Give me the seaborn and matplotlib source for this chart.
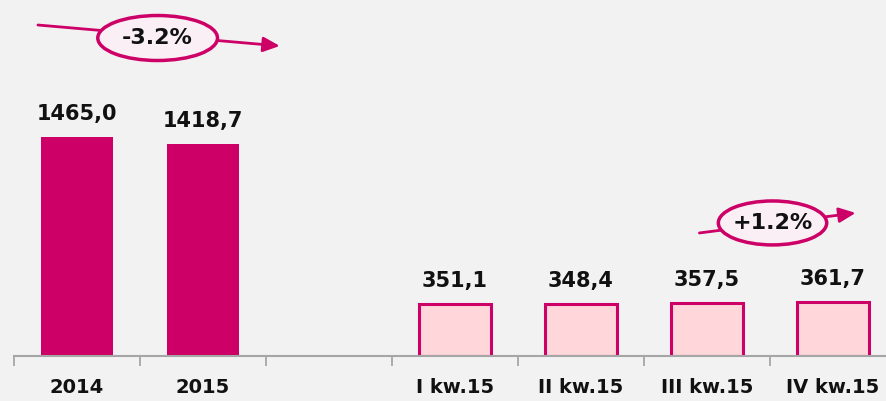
import matplotlib
matplotlib.use("Agg")
import matplotlib.pyplot as plt
from matplotlib.patches import Ellipse
import seaborn as sns
import pandas as pd

# Data
categories = ["2014", "2015", "I kw.15", "II kw.15", "III kw.15", "IV kw.15"]
order = ["2014", "2015", "", "I kw.15", "II kw.15", "III kw.15", "IV kw.15"]
values = [1465.0, 1418.7, 351.1, 348.4, 357.5, 361.7]
labels = ["1465,0", "1418,7", "351,1", "348,4", "357,5", "361,7"]
kinds = ["year", "year", "quarter", "quarter", "quarter", "quarter"]

df = pd.DataFrame({"cat": categories, "val": values, "lab": labels, "kind": kinds})

magenta = "#CC0066"
light = "#FFD6DA"
bg = "#F2F2F2"

sns.set_style("white")
plt.rcParams["font.family"] = ["DejaVu Sans"]

fig = plt.figure(figsize=(8.87, 4.01), dpi=100, facecolor=bg)
ax = fig.add_axes([14 / 887, 45 / 401, 882 / 887, 356 / 401])
ax.set_facecolor(bg)

sns.barplot(data=df, x="cat", y="val", order=order, ax=ax, width=0.57,
            color=magenta, saturation=1)

# restyle bars by kind and add value labels
for patch, (_, row) in zip([p for p in ax.patches], df.iterrows()):
    if row["kind"] == "quarter":
        patch.set_facecolor(light)
        patch.set_edgecolor(magenta)
        patch.set_linewidth(2.2)
    else:
        patch.set_facecolor(magenta)
        patch.set_edgecolor(magenta)
        patch.set_linewidth(0)
    cx = patch.get_x() + patch.get_width() / 2
    ax.annotate(row["lab"], (cx, patch.get_height()), xytext=(0, 9),
                textcoords="offset points", ha="center", va="bottom",
                fontsize=15, fontweight="bold", color="#111111")

ax.set_ylim(0, 356 / 0.1495)
ax.set_xlim(-0.5, 6.5)
ax.set_xlabel("")
ax.set_ylabel("")
ax.set_yticks([])

for s in ["top", "right", "left"]:
    ax.spines[s].set_visible(False)
ax.spines["bottom"].set_color("#A6A6A6")
ax.spines["bottom"].set_linewidth(1.5)

ax.set_xticks(range(len(order)))
ax.set_xticklabels(order, fontsize=14, fontweight="bold", color="#111111")
ax.tick_params(axis="x", which="major", length=0, pad=16)
ax.set_xticks([i - 0.5 for i in range(len(order))], minor=True)
ax.tick_params(axis="x", which="minor", bottom=True, length=7, width=1.3,
               color="#A6A6A6", direction="out")


def change_badge(text, start, end, center, w, h):
    ax.annotate("", xy=end, xytext=start,
                arrowprops=dict(arrowstyle="-|>,head_length=1.0,head_width=0.45",
                                color=magenta, lw=2, shrinkA=0, shrinkB=0),
                annotation_clip=False, zorder=4)
    ax.add_patch(Ellipse(center, w, h, facecolor="#FAEFF4", edgecolor=magenta,
                         lw=2.5, zorder=5, clip_on=False))
    ax.text(center[0], center[1], text, ha="center", va="center", fontsize=16,
            fontweight="bold", color="#111111", zorder=6)


change_badge("-3.2%", (-0.31, 2214), (1.61, 2074), (0.64, 2127), 0.95, 301)
change_badge("+1.2%", (4.94, 823), (6.18, 957), (5.52, 890), 0.86, 294)

fig.savefig("out.png", dpi=100, facecolor=bg)
